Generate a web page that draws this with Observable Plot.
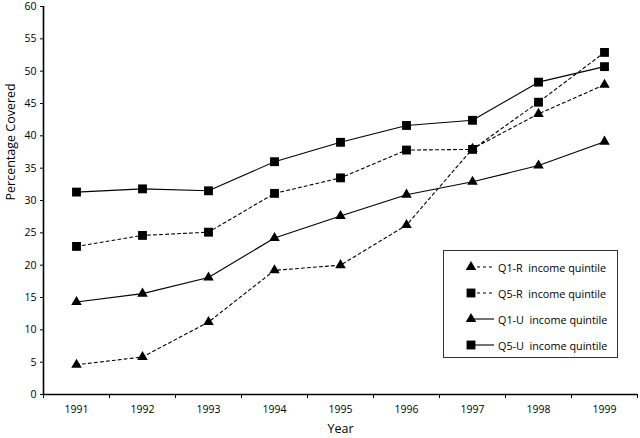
<!DOCTYPE html>
<html>
<head>
<meta charset="utf-8">
<script src="https://cdn.jsdelivr.net/npm/d3@7"></script>
<script src="https://cdn.jsdelivr.net/npm/@observablehq/plot@0.6"></script>
<style>
  html, body { margin: 0; padding: 0; background: #fff; }
  #wrap { position: relative; width: 640px; height: 438px; font-family: "Open Sans", sans-serif; }
  #legend { position: absolute; left: 443px; top: 250px; width: 173px; height: 106px;
            border: 1.5px solid #333; background: #fff; box-sizing: content-box; }
  .row { position: absolute; left: 0; height: 20px; display: flex; align-items: center; }
  .row svg { display: block; }
  .row span { font-size: 10.8px; color: #000; white-space: pre; margin-left: 4px; }
</style>
</head>
<body>
<div id="wrap"></div>
<script>
const years = [1991, 1992, 1993, 1994, 1995, 1996, 1997, 1998, 1999];
const q1r = [4.6, 5.8, 11.2, 19.2, 20.0, 26.2, 38.0, 43.4, 47.9];
const q5r = [22.9, 24.6, 25.1, 31.1, 33.5, 37.8, 37.9, 45.2, 52.9];
const q1u = [14.3, 15.6, 18.1, 24.2, 27.6, 30.9, 32.9, 35.4, 39.1];
const q5u = [31.3, 31.8, 31.5, 36.0, 39.0, 41.6, 42.4, 48.3, 50.7];
const seriesNames = ["Q1-R  income quintile", "Q5-R  income quintile", "Q1-U  income quintile", "Q5-U  income quintile"];
const seriesValues = [q1r, q5r, q1u, q5u];
const seriesSymbol = ["triangle", "square", "triangle", "square"];
const seriesDash = ["3,3", "3,3", null, null];
const yTicks = d3.range(0, 61, 5);

const rows = [];
seriesNames.forEach((name, i) => {
  years.forEach((yr, j) => rows.push({series: name, idx: i, year: yr, value: seriesValues[i][j]}));
});
const boundaries = years.map(y => y - 0.5).concat([years[years.length - 1] + 0.5]);

const lineMarks = seriesNames.map((name, i) => Plot.line(rows.filter(d => d.idx === i), {
  x: "year", y: "value", stroke: "#000", strokeWidth: 1.1,
  strokeDasharray: seriesDash[i] || undefined
}));
const dotMarks = seriesNames.map((name, i) => Plot.dot(rows.filter(d => d.idx === i), {
  x: "year", y: "value", symbol: seriesSymbol[i], fill: "#000", stroke: "none",
  r: seriesSymbol[i] === "square" ? 5 : 3.9
}));

const chart = Plot.plot({
  width: 640, height: 438,
  marginLeft: 43, marginRight: 3, marginTop: 6, marginBottom: 44,
  style: {fontFamily: "Open Sans, sans-serif", fontSize: "10.5px", color: "#000", background: "#fff"},
  x: {type: "linear", domain: [boundaries[0], boundaries[boundaries.length - 1]], axis: null},
  y: {domain: [0, 60], axis: null},
  marks: [
    Plot.axisY({ticks: yTicks, tickSize: 3, tickPadding: 4, label: null, tickFormat: "d"}),
    Plot.axisX({ticks: boundaries, tickSize: 4, tickFormat: () => "", label: null}),
    Plot.axisX({ticks: years, tickSize: 0, tickPadding: 11, tickFormat: "d", label: null}),
    Plot.ruleY([0], {stroke: "#000", strokeWidth: 1.6}),
    Plot.ruleX([boundaries[0]], {stroke: "#000", strokeWidth: 1.6}),
    ...lineMarks,
    ...dotMarks,
    Plot.text(["Percentage Covered"], {frameAnchor: "left", dx: -33, rotate: -90, fontSize: 12.5, fill: "#000"}),
    Plot.text(["Year"], {frameAnchor: "bottom", dy: 38, fontSize: 12.5, fill: "#000"})
  ]
});
const wrap = document.getElementById("wrap");
wrap.appendChild(chart);

// legend
const legend = document.createElement("div");
legend.id = "legend";
seriesNames.forEach((name, i) => {
  const row = document.createElement("div");
  row.className = "row";
  row.style.top = (6 + i * 26) + "px";
  const ns = "http://www.w3.org/2000/svg";
  const svg = document.createElementNS(ns, "svg");
  svg.setAttribute("width", 50); svg.setAttribute("height", 20);
  const line = document.createElementNS(ns, "line");
  line.setAttribute("x1", 27); line.setAttribute("x2", 50);
  line.setAttribute("y1", 10); line.setAttribute("y2", 10);
  line.setAttribute("stroke", "#000"); line.setAttribute("stroke-width", 1.1);
  if (seriesDash[i]) line.setAttribute("stroke-dasharray", seriesDash[i]);
  svg.appendChild(line);
  const sym = document.createElementNS(ns, "path");
  const isSq = seriesSymbol[i] === "square";
  const r = isSq ? 5 : 3.9;
  sym.setAttribute("d", d3.symbol(isSq ? d3.symbolSquare : d3.symbolTriangle, Math.PI * r * r)());
  sym.setAttribute("transform", "translate(27,10)");
  sym.setAttribute("fill", "#000");
  svg.appendChild(sym);
  row.appendChild(svg);
  const span = document.createElement("span");
  span.textContent = name;
  row.appendChild(span);
  legend.appendChild(row);
});
wrap.appendChild(legend);
</script>
</body>
</html>
